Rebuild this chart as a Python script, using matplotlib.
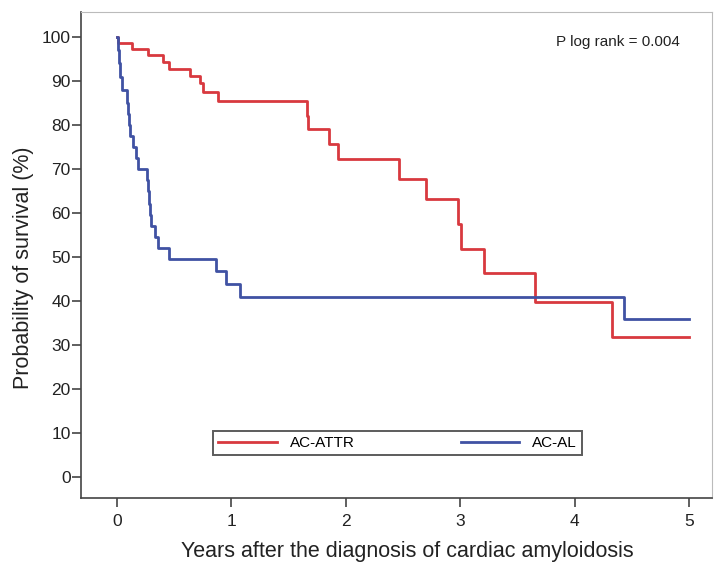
import matplotlib
matplotlib.use("Agg")
import matplotlib.pyplot as plt

# Kaplan-Meier step data (years, survival %)
attr_t = [0, 0.01, 0.13, 0.27, 0.405, 0.45, 0.64, 0.725, 0.755, 0.885,
          1.66, 1.67, 1.85, 1.93, 2.46, 2.70, 2.98, 3.01, 3.21, 3.65, 4.33, 5.0]
attr_s = [100, 98.7, 97.4, 95.9, 94.4, 92.8, 91.2, 89.6, 87.5, 85.5,
          82.0, 79.2, 75.7, 72.2, 67.7, 63.1, 57.6, 51.8, 46.4, 39.8, 31.7, 31.7]

al_t = [0, 0.01, 0.02, 0.03, 0.045, 0.085, 0.095, 0.105, 0.115, 0.14, 0.165,
        0.18, 0.26, 0.27, 0.28, 0.29, 0.30, 0.33, 0.36, 0.45, 0.865, 0.955,
        1.075, 4.43, 5.0]
al_s = [100, 97, 94, 91, 88, 85, 82.5, 80, 77.5, 75, 72.5,
        70, 67.5, 65, 62, 59.5, 57, 54.5, 52, 49.5, 46.8, 43.9,
        41, 35.9, 35.9]

x_ticks = [0, 1, 2, 3, 4, 5]
y_ticks = [0, 10, 20, 30, 40, 50, 60, 70, 80, 90, 100]

plt.rcParams['font.family'] = ['Liberation Sans', 'DejaVu Sans']

fig = plt.figure(figsize=(7.15, 5.62), dpi=100)
ax = fig.add_axes([0.1133, 0.1139, 0.8825, 0.8647])

red = '#d8393f'
blue = '#4052a3'
ax.step(attr_t, attr_s, where='post', color=red, lw=2.0, label='AC-ATTR')
ax.step(al_t, al_s, where='post', color=blue, lw=2.0, label='AC-AL')

ax.set_xlim(-0.315, 5.2)
ax.set_ylim(-4.8, 105.7)
ax.set_xticks(x_ticks)
ax.set_yticks(y_ticks)
ax.tick_params(axis='both', direction='out', length=6.5, width=1.2,
               colors='#444444', labelsize=12.5, labelcolor='#222222')
ax.tick_params(axis='x', pad=5)
ax.tick_params(axis='y', pad=1)

for s in ['left', 'bottom']:
    ax.spines[s].set_color('#444444')
    ax.spines[s].set_linewidth(1.2)
for s in ['top', 'right']:
    ax.spines[s].set_color('#bbbbbb')
    ax.spines[s].set_linewidth(0.8)

ax.set_xlabel('Years after the diagnosis of cardiac amyloidosis', fontsize=15.5,
              color='#222222')
ax.xaxis.set_label_coords(0.517, -0.088)
ax.set_ylabel('Probability of survival (%)', fontsize=15.5, color='#222222')
ax.yaxis.set_label_coords(-0.074, 0.473)

ax.text(0.949, 0.938, 'P log rank = 0.004', transform=ax.transAxes,
        ha='right', va='center', fontsize=11, color='#222222')

leg = ax.legend(loc='center', bbox_to_anchor=(0.502, 0.113), ncol=2,
                fontsize=11, frameon=True, fancybox=False, edgecolor='#333333',
                handlelength=3.85, columnspacing=6.9, handletextpad=0.85,
                borderpad=0.35, borderaxespad=0)
leg.get_frame().set_linewidth(1.4)

fig.savefig('out.png', dpi=100)
